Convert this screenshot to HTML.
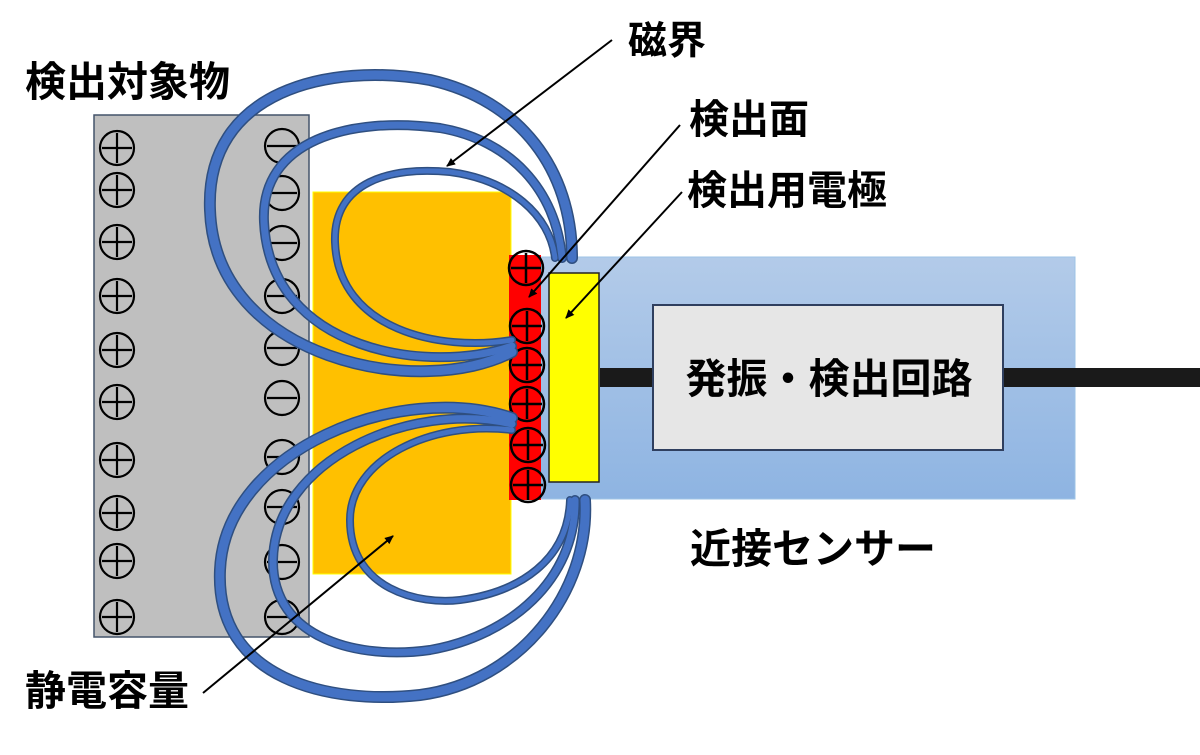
<!DOCTYPE html>
<html><head><meta charset="utf-8"><style>
html,body{margin:0;padding:0;background:#fff;}
svg{display:block;}
text{font-family:"Liberation Sans","Noto Sans CJK JP",sans-serif;font-weight:bold;fill:#000;}
</style></head><body>
<svg width="1200" height="755" viewBox="0 0 1200 755" xmlns="http://www.w3.org/2000/svg">
<defs>
<linearGradient id="bg" x1="0" y1="0" x2="0" y2="1">
<stop offset="0" stop-color="#b3cbe9"/><stop offset="1" stop-color="#8eb4e2"/>
</linearGradient>
<marker id="ah" markerWidth="10" markerHeight="10" refX="8" refY="5" orient="auto" markerUnits="userSpaceOnUse">
<path d="M0,1 L9,5 L0,9 z" fill="#000"/>
</marker>
</defs>
<rect x="94" y="115" width="215" height="522" fill="#bfbfbf" stroke="#44546a" stroke-width="1.5"/>
<rect x="313" y="192" width="198" height="382" fill="#ffc000" stroke="#ffff00" stroke-width="1"/>
<rect x="540" y="257" width="535" height="242" fill="url(#bg)" stroke="#9dc3e6" stroke-width="1"/>
<rect x="600" y="368" width="600" height="19" fill="#1a1a1a"/>
<rect x="653" y="305" width="350" height="145" fill="#e6e6e6" stroke="#2f3f5f" stroke-width="2"/>
<text x="829" y="393" font-size="41" text-anchor="middle">発振・検出回路</text>
<rect x="509" y="255" width="32" height="245" fill="#ff0000"/>
<rect x="549" y="273" width="50" height="209" fill="#ffff00" stroke="#222" stroke-width="1.5"/>
<g stroke="#000" stroke-width="2.2" fill="none">
<circle cx="117" cy="148" r="17"/><path d="M102 148h30M117 133v30"/>
<circle cx="117" cy="190" r="17"/><path d="M102 190h30M117 175v30"/>
<circle cx="117" cy="242" r="17"/><path d="M102 242h30M117 227v30"/>
<circle cx="117" cy="296" r="17"/><path d="M102 296h30M117 281v30"/>
<circle cx="117" cy="350" r="17"/><path d="M102 350h30M117 335v30"/>
<circle cx="117" cy="402" r="17"/><path d="M102 402h30M117 387v30"/>
<circle cx="117" cy="460" r="17"/><path d="M102 460h30M117 445v30"/>
<circle cx="117" cy="513" r="17"/><path d="M102 513h30M117 498v30"/>
<circle cx="117" cy="561" r="17"/><path d="M102 561h30M117 546v30"/>
<circle cx="117" cy="617" r="17"/><path d="M102 617h30M117 602v30"/>
<circle cx="282" cy="146" r="17"/><path d="M267 146h30"/>
<circle cx="282" cy="193" r="17"/><path d="M267 193h30"/>
<circle cx="282" cy="243" r="17"/><path d="M267 243h30"/>
<circle cx="282" cy="296" r="17"/><path d="M267 296h30"/>
<circle cx="282" cy="348" r="17"/><path d="M267 348h30"/>
<circle cx="282" cy="398" r="17"/><path d="M267 398h30"/>
<circle cx="282" cy="457" r="17"/><path d="M267 457h30"/>
<circle cx="282" cy="507" r="17"/><path d="M267 507h30"/>
<circle cx="282" cy="562" r="17"/><path d="M267 562h30"/>
<circle cx="282" cy="617" r="17"/><path d="M267 617h30"/>
</g>
<g stroke="#000" stroke-width="2.5" fill="none">
<circle cx="526" cy="268" r="17"/><path d="M511 268h30M526 253v30"/>
<circle cx="527" cy="326" r="17"/><path d="M512 326h30M527 311v30"/>
<circle cx="527" cy="365" r="17"/><path d="M512 365h30M527 350v30"/>
<circle cx="527" cy="404" r="17"/><path d="M512 404h30M527 389v30"/>
<circle cx="528" cy="445" r="17"/><path d="M513 445h30M528 430v30"/>
<circle cx="528" cy="485" r="17"/><path d="M513 485h30M528 470v30"/>
</g>
<g fill="none" stroke-linecap="round">
<g stroke="#2f4f80">
<path stroke-width="12" d="M512 352 C420 400, 215 360, 210 210 C205 90, 330 62, 430 80 C520 100, 572 170, 572 258"/>
<path stroke-width="10" d="M512 346 C430 375, 270 352, 264 222 C260 140, 350 116, 440 128 C510 140, 556 190, 562 258"/>
<path stroke-width="8" d="M512 340 C440 352, 338 330, 335 242 C333 182, 390 166, 450 172 C510 180, 550 215, 555 258"/>
<path stroke-width="12" d="M512 418 C400 380, 225 450, 220 570 C215 680, 330 705, 420 695 C520 682, 590 592, 585 500"/>
<path stroke-width="10" d="M512 424 C410 400, 275 460, 273 560 C272 640, 360 660, 430 650 C510 636, 576 580, 575 500"/>
<path stroke-width="8" d="M512 430 C430 420, 350 460, 350 520 C350 590, 420 605, 460 600 C520 592, 568 560, 570 500"/>
</g>
<g stroke="#4472c4">
<path stroke-width="9" d="M512 352 C420 400, 215 360, 210 210 C205 90, 330 62, 430 80 C520 100, 572 170, 572 258"/>
<path stroke-width="7" d="M512 346 C430 375, 270 352, 264 222 C260 140, 350 116, 440 128 C510 140, 556 190, 562 258"/>
<path stroke-width="5" d="M512 340 C440 352, 338 330, 335 242 C333 182, 390 166, 450 172 C510 180, 550 215, 555 258"/>
<path stroke-width="9" d="M512 418 C400 380, 225 450, 220 570 C215 680, 330 705, 420 695 C520 682, 590 592, 585 500"/>
<path stroke-width="7" d="M512 424 C410 400, 275 460, 273 560 C272 640, 360 660, 430 650 C510 636, 576 580, 575 500"/>
<path stroke-width="5" d="M512 430 C430 420, 350 460, 350 520 C350 590, 420 605, 460 600 C520 592, 568 560, 570 500"/>
</g>
</g>
<g stroke="#000" stroke-width="2" fill="none">
<line x1="612" y1="40" x2="447" y2="166" marker-end="url(#ah)"/>
<line x1="680" y1="125" x2="529" y2="297" marker-end="url(#ah)"/>
<line x1="682" y1="192" x2="566" y2="318" marker-end="url(#ah)"/>
<line x1="203" y1="693" x2="393" y2="536" marker-end="url(#ah)"/>
</g>
<text x="25" y="96" font-size="41">検出対象物</text>
<text x="628" y="54" font-size="39">磁界</text>
<text x="689" y="133" font-size="40">検出面</text>
<text x="687" y="204" font-size="40">検出用電極</text>
<text x="690" y="563" font-size="41">近接センサー</text>
<text x="25" y="705" font-size="41">静電容量</text>
</svg>
</body></html>
